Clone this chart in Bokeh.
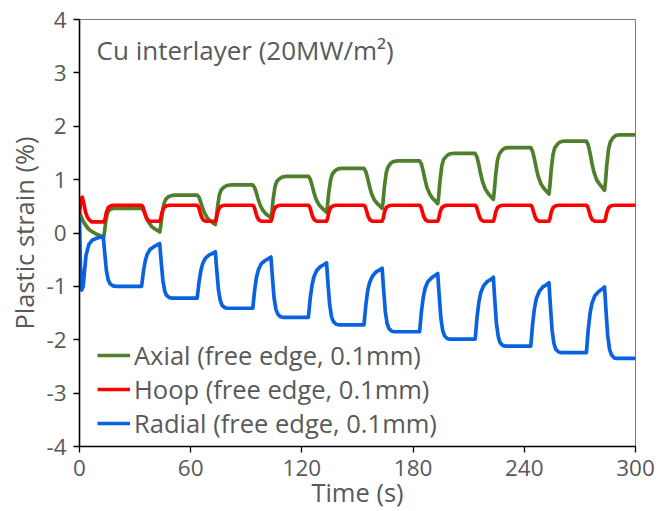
from bokeh.plotting import figure
from bokeh.models import Range1d, Label, Legend, LegendItem, FixedTicker
from bokeh.embed import file_html
from bokeh.resources import INLINE

# ---------------- data ----------------
x_ticks = [0, 60, 120, 180, 240, 300]
y_ticks = [-4, -3, -2, -1, 0, 1, 2, 3, 4]

axial_t = [
    0, 1, 2, 3.2, 5, 7, 9, 11.3, 13.1, 13.6, 14.3, 15.2, 16.5, 18,
    33.5, 34.5, 35.5, 36.5, 37.5, 39, 40.5, 42, 43.3, 43.8, 44.5, 45.5, 46.5, 48, 49.5, 51.5,
    63.5, 64.5, 65.5, 66.5, 67.5, 69, 70.5, 72, 73.3, 73.8, 74.5, 75.5, 76.5, 78, 79.5, 81.5,
    93.5, 94.5, 95.5, 96.5, 97.5, 99, 100.5, 102, 103.3, 103.8, 104.5, 105.5, 106.5, 108, 109.5, 111.5,
    123.5, 124.5, 125.5, 126.5, 127.5, 129, 130.5, 132, 133.3, 133.8, 134.5, 135.5, 136.5, 138, 139.5, 141.5,
    153.5, 154.5, 155.5, 156.5, 157.5, 159, 160.5, 162, 163.3, 163.8, 164.5, 165.5, 166.5, 168, 169.5, 171.5,
    183.5, 184.5, 185.5, 186.5, 187.5, 189, 190.5, 192, 193.3, 193.8, 194.5, 195.5, 196.5, 198, 199.5, 201.5,
    213.5, 214.5, 215.5, 216.5, 217.5, 219, 220.5, 222, 223.3, 223.8, 224.5, 225.5, 226.5, 228, 229.5, 231.5,
    243.5, 244.5, 245.5, 246.5, 247.5, 249, 250.5, 252, 253.3, 253.8, 254.5, 255.5, 256.5, 258, 259.5, 261.5,
    273.5, 274.5, 275.5, 276.5, 277.5, 279, 280.5, 282, 283.3, 283.8, 284.5, 285.5, 286.5, 288, 289.5, 291.5,
    300,
]
axial_v = [
    0.38, 0.30, 0.22, 0.15, 0.07, 0.02, -0.02, -0.05, -0.07, 0.05, 0.25, 0.39, 0.44, 0.46,
    0.46, 0.425, 0.35, 0.26, 0.19, 0.12, 0.08, 0.05, 0.02, 0.12, 0.33, 0.54, 0.63, 0.68, 0.70, 0.71,
    0.71, 0.67, 0.57, 0.46, 0.37, 0.28, 0.23, 0.19, 0.16, 0.27, 0.49, 0.72, 0.81, 0.86, 0.89, 0.90,
    0.90, 0.85, 0.745, 0.62, 0.52, 0.42, 0.36, 0.32, 0.28, 0.40, 0.63, 0.87, 0.97, 1.02, 1.05, 1.06,
    1.06, 1.01, 0.89, 0.76, 0.645, 0.54, 0.48, 0.43, 0.39, 0.51, 0.76, 1.00, 1.11, 1.17, 1.20, 1.21,
    1.21, 1.15, 1.02, 0.87, 0.745, 0.625, 0.56, 0.505, 0.46, 0.59, 0.86, 1.13, 1.24, 1.31, 1.34, 1.35,
    1.35, 1.29, 1.15, 0.99, 0.85, 0.73, 0.65, 0.60, 0.55, 0.69, 0.97, 1.26, 1.38, 1.44, 1.48, 1.49,
    1.49, 1.42, 1.275, 1.10, 0.96, 0.82, 0.74, 0.68, 0.63, 0.78, 1.07, 1.36, 1.48, 1.55, 1.59, 1.60,
    1.60, 1.53, 1.38, 1.21, 1.06, 0.92, 0.84, 0.78, 0.73, 0.88, 1.18, 1.47, 1.60, 1.67, 1.71, 1.72,
    1.72, 1.65, 1.49, 1.31, 1.15, 1.00, 0.92, 0.855, 0.80, 0.96, 1.27, 1.58, 1.715, 1.79, 1.83, 1.84,
    1.84,
]

hoop_t = [
    0, 0.6, 1.5, 2.3, 3.2, 4.2, 5.2, 6.5, 13.3, 13.9, 14.5, 15.5, 17, 18.5,
    33.5, 34.3, 35, 35.8, 36.8, 38, 43.3, 43.9, 44.5, 45.5, 47, 48.5,
    63.5, 64.3, 65, 65.8, 66.8, 68, 73.3, 73.9, 74.5, 75.5, 77, 78.5,
    93.5, 94.3, 95, 95.8, 96.8, 98, 103.3, 103.9, 104.5, 105.5, 107, 108.5,
    123.5, 124.3, 125, 125.8, 126.8, 128, 133.3, 133.9, 134.5, 135.5, 137, 138.5,
    153.5, 154.3, 155, 155.8, 156.8, 158, 163.3, 163.9, 164.5, 165.5, 167, 168.5,
    183.5, 184.3, 185, 185.8, 186.8, 188, 193.3, 193.9, 194.5, 195.5, 197, 198.5,
    213.5, 214.3, 215, 215.8, 216.8, 218, 223.3, 223.9, 224.5, 225.5, 227, 228.5,
    243.5, 244.3, 245, 245.8, 246.8, 248, 253.3, 253.9, 254.5, 255.5, 257, 258.5,
    273.5, 274.3, 275, 275.8, 276.8, 278, 283.3, 283.9, 284.5, 285.5, 287, 288.5,
    300,
]
hoop_v = [
    0.35, 0.60, 0.67, 0.56, 0.40, 0.30, 0.25, 0.21, 0.21, 0.28, 0.385, 0.475, 0.51, 0.52,
    0.52, 0.484, 0.40, 0.304, 0.244, 0.22, 0.22, 0.28, 0.385, 0.475, 0.51, 0.52,
    0.52, 0.484, 0.40, 0.304, 0.244, 0.22, 0.22, 0.28, 0.385, 0.475, 0.51, 0.52,
    0.52, 0.484, 0.40, 0.304, 0.244, 0.22, 0.22, 0.28, 0.385, 0.475, 0.51, 0.52,
    0.52, 0.484, 0.40, 0.304, 0.244, 0.22, 0.22, 0.28, 0.385, 0.475, 0.51, 0.52,
    0.52, 0.484, 0.40, 0.304, 0.244, 0.22, 0.22, 0.28, 0.385, 0.475, 0.51, 0.52,
    0.52, 0.484, 0.40, 0.304, 0.244, 0.22, 0.22, 0.28, 0.385, 0.475, 0.51, 0.52,
    0.52, 0.484, 0.40, 0.304, 0.244, 0.22, 0.22, 0.28, 0.385, 0.475, 0.51, 0.52,
    0.52, 0.484, 0.40, 0.304, 0.244, 0.22, 0.22, 0.28, 0.385, 0.475, 0.51, 0.52,
    0.52, 0.484, 0.40, 0.304, 0.244, 0.22, 0.22, 0.28, 0.385, 0.475, 0.51, 0.52,
    0.52,
]

radial_t = [
    0, 0.5, 1.2, 2, 2.7, 3.5, 5, 7, 10, 12.8, 13.5, 14.5, 15.5, 16.5, 18, 20,
    33.5, 34.5, 35.5, 36.5, 38, 40, 42, 43.3, 44, 45, 46, 47, 48.5, 50,
    63.5, 64.5, 65.5, 66.5, 68, 70, 72, 73.3, 74, 75, 76, 77, 78.5, 80,
    93.5, 94.5, 95.5, 96.5, 98, 100, 102, 103.3, 104, 105, 106, 107, 108.5, 110,
    123.5, 124.5, 125.5, 126.5, 128, 130, 132, 133.3, 134, 135, 136, 137, 138.5, 140,
    153.5, 154.5, 155.5, 156.5, 158, 160, 162, 163.3, 164, 165, 166, 167, 168.5, 170,
    183.5, 184.5, 185.5, 186.5, 188, 190, 192, 193.3, 194, 195, 196, 197, 198.5, 200,
    213.5, 214.5, 215.5, 216.5, 218, 220, 222, 223.3, 224, 225, 226, 227, 228.5, 230,
    243.5, 244.5, 245.5, 246.5, 248, 250, 252, 253.3, 254, 255, 256, 257, 258.5, 260,
    273.5, 274.5, 275.5, 276.5, 278, 280, 282, 283.3, 284, 285, 286, 287, 288.5, 290,
    300,
]
radial_v = [
    0.28, -0.60, -1.07, -1.00, -0.72, -0.42, -0.22, -0.13, -0.09, -0.07, -0.33, -0.70, -0.88, -0.95, -0.99, -1.00,
    -1.00, -0.72, -0.52, -0.40, -0.31, -0.26, -0.22, -0.20, -0.51, -0.89, -1.09, -1.17, -1.21, -1.22,
    -1.22, -0.92, -0.70, -0.57, -0.47, -0.41, -0.38, -0.35, -0.67, -1.07, -1.27, -1.36, -1.40, -1.41,
    -1.41, -1.07, -0.83, -0.69, -0.58, -0.52, -0.48, -0.45, -0.79, -1.22, -1.43, -1.52, -1.57, -1.58,
    -1.58, -1.22, -0.97, -0.82, -0.70, -0.63, -0.59, -0.56, -0.91, -1.35, -1.57, -1.66, -1.71, -1.72,
    -1.72, -1.35, -1.08, -0.93, -0.81, -0.73, -0.69, -0.66, -1.02, -1.47, -1.70, -1.79, -1.84, -1.85,
    -1.85, -1.47, -1.20, -1.03, -0.91, -0.84, -0.79, -0.76, -1.13, -1.60, -1.83, -1.93, -1.98, -1.99,
    -1.99, -1.58, -1.29, -1.12, -0.99, -0.91, -0.87, -0.83, -1.22, -1.71, -1.95, -2.06, -2.11, -2.12,
    -2.12, -1.70, -1.41, -1.23, -1.10, -1.01, -0.97, -0.93, -1.32, -1.82, -2.07, -2.18, -2.23, -2.24,
    -2.24, -1.81, -1.50, -1.32, -1.18, -1.10, -1.05, -1.01, -1.41, -1.92, -2.18, -2.28, -2.34, -2.35,
    -2.35,
]

series_names = ["Axial (free edge, 0.1mm)", "Hoop (free edge, 0.1mm)", "Radial (free edge, 0.1mm)"]
series_colors = ["#4f7f2c", "#ff0000", "#0a62e0"]
annotation = "Cu interlayer (20MW/m\u00b2)"

# ---------------- figure ----------------
FONT = "Open Sans"
TXT = "#595959"

p = figure(width=672, height=511, output_backend="svg", toolbar_location=None,
           x_range=Range1d(0, 300), y_range=Range1d(-4, 4),
           min_border_left=79, min_border_right=37, min_border_top=19, min_border_bottom=64,
           background_fill_color="white", border_fill_color="white")
p.outline_line_color = "#7a7a7a"
p.outline_line_width = 1
p.xgrid.visible = False
p.ygrid.visible = False

for ax in (p.xaxis[0], p.yaxis[0]):
    ax.axis_line_color = "black"
    ax.axis_line_width = 1.6
    ax.major_tick_line_color = "black"
    ax.major_tick_line_width = 1.3
    ax.major_tick_out = 6
    ax.major_tick_in = 0
    ax.minor_tick_line_color = None
    ax.major_label_text_font = FONT
    ax.major_label_text_font_size = "22.5px"
    ax.major_label_text_color = TXT
    ax.axis_label_text_font = FONT
    ax.axis_label_text_font_size = "25.5px"
    ax.axis_label_text_font_style = "normal"
    ax.axis_label_text_color = TXT

p.xaxis.ticker = FixedTicker(ticks=x_ticks)
p.yaxis.ticker = FixedTicker(ticks=y_ticks)
p.yaxis.major_label_overrides = {t: str(t) for t in y_ticks}
p.xaxis.axis_label = "Time (s)"
p.yaxis.axis_label = "Plastic strain (%)"
p.xaxis.major_label_standoff = 7
p.yaxis.major_label_standoff = 7
p.xaxis.axis_label_standoff = -4
p.yaxis.axis_label_standoff = 2

r_ax = p.line(axial_t, axial_v, line_color=series_colors[0], line_width=3.7, line_join="round")
r_ho = p.line(hoop_t, hoop_v, line_color=series_colors[1], line_width=3.7, line_join="round")
r_ra = p.line(radial_t, radial_v, line_color=series_colors[2], line_width=3.7, line_join="round")

legend = Legend(items=[LegendItem(label=series_names[0], renderers=[r_ax]),
                       LegendItem(label=series_names[1], renderers=[r_ho]),
                       LegendItem(label=series_names[2], renderers=[r_ra])],
                location=(18, 6), padding=0, margin=0, spacing=-1,
                glyph_width=33, glyph_height=20, label_standoff=4,
                label_text_font=FONT, label_text_font_size="25.5px", label_text_color=TXT,
                border_line_alpha=0, background_fill_alpha=0)
p.add_layout(legend)

p.add_layout(Label(x=9.2, y=3.42, text=annotation, text_baseline="middle",
                   text_font=FONT, text_font_size="26px", text_color=TXT))

open("out.html", "w").write(file_html(p, INLINE))
